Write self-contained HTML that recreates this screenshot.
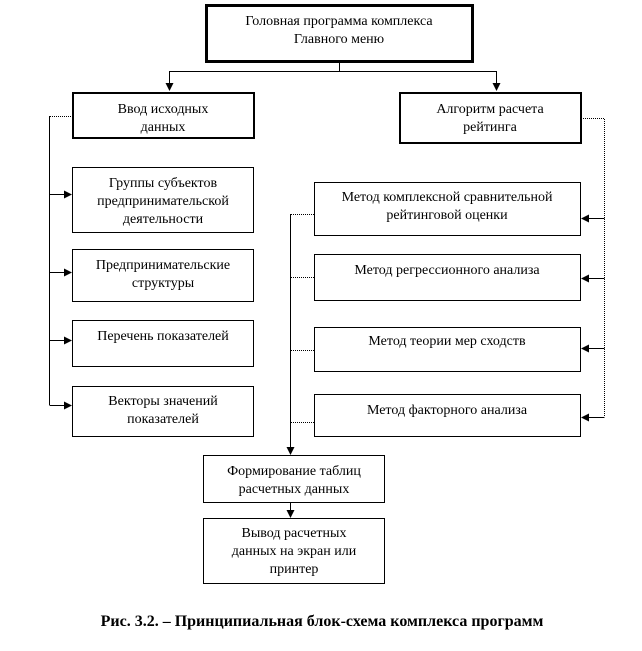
<!DOCTYPE html>
<html><head><meta charset="utf-8"><style>
html,body{margin:0;padding:0;background:#fff;}
svg{display:block;}
text{font-family:"Liberation Serif",serif;font-size:14px;fill:#000;}
</style></head><body>
<svg width="642" height="651" viewBox="0 0 642 651" xmlns="http://www.w3.org/2000/svg">
<defs>
<marker id="a" markerWidth="8" markerHeight="8" refX="7" refY="4" orient="auto" markerUnits="userSpaceOnUse">
<path d="M0,0 L8,4 L0,8 z" fill="#000"/></marker>
</defs>
<g fill="none" stroke="#000">
<rect x="206.5" y="5.5" width="266" height="56" stroke-width="3"/>
<rect x="73" y="93" width="181" height="45" stroke-width="2"/>
<rect x="400" y="93" width="181" height="50" stroke-width="2"/>
<rect x="72.5" y="167.5" width="181" height="65"/>
<rect x="72.5" y="249.5" width="181" height="52"/>
<rect x="72.5" y="320.5" width="181" height="46"/>
<rect x="72.5" y="386.5" width="181" height="50"/>
<rect x="314.5" y="182.5" width="266" height="53"/>
<rect x="314.5" y="254.5" width="266" height="46"/>
<rect x="314.5" y="327.5" width="266" height="44"/>
<rect x="314.5" y="394.5" width="266" height="42"/>
<rect x="203.5" y="455.5" width="181" height="47"/>
<rect x="203.5" y="518.5" width="181" height="65"/>
<path d="M339.5,61 V71.5 M169.5,71.5 H496.5"/>
<path d="M169.5,71 V90" marker-end="url(#a)"/>
<path d="M496.5,71 V90" marker-end="url(#a)"/>
<path d="M73,116.5 H49.5" stroke-dasharray="1,1"/>
<path d="M49.5,116 V405"/>
<path d="M49.5,194.5 H71" marker-end="url(#a)"/>
<path d="M49.5,272.5 H71" marker-end="url(#a)"/>
<path d="M49.5,340.5 H71" marker-end="url(#a)"/>
<path d="M49.5,405.5 H71" marker-end="url(#a)"/>
<path d="M581,118.5 H604.5 V417" stroke-dasharray="1,1"/>
<path d="M604.5,218.5 H582" marker-end="url(#a)"/>
<path d="M604.5,278.5 H582" marker-end="url(#a)"/>
<path d="M604.5,348.5 H582" marker-end="url(#a)"/>
<path d="M604.5,417.5 H582" marker-end="url(#a)"/>
<path d="M314,214.5 H290.5 M314,277.5 H290.5 M314,350.5 H290.5 M314,422.5 H290.5" stroke-dasharray="1,1"/>
<path d="M290.5,214 V454" marker-end="url(#a)"/>
<path d="M290.5,503 V517" marker-end="url(#a)"/>
</g>
<g text-anchor="middle">
<text x="339" y="25">Головная программа комплекса</text>
<text x="339" y="43">Главного меню</text>
<text x="163" y="113">Ввод исходных</text>
<text x="163" y="131">данных</text>
<text x="490" y="113">Алгоритм расчета</text>
<text x="490" y="131">рейтинга</text>
<text x="163" y="187">Группы субъектов</text>
<text x="163" y="205">предпринимательской</text>
<text x="163" y="223">деятельности</text>
<text x="163" y="269">Предпринимательские</text>
<text x="163" y="287">структуры</text>
<text x="163" y="340">Перечень показателей</text>
<text x="163" y="405">Векторы значений</text>
<text x="163" y="423">показателей</text>
<text x="447" y="201">Метод комплексной сравнительной</text>
<text x="447" y="219">рейтинговой оценки</text>
<text x="447" y="274">Метод регрессионного анализа</text>
<text x="447" y="345">Метод теории мер сходств</text>
<text x="447" y="414">Метод факторного анализа</text>
<text x="294" y="475">Формирование таблиц</text>
<text x="294" y="493">расчетных данных</text>
<text x="294" y="537">Вывод расчетных</text>
<text x="294" y="555">данных на экран или</text>
<text x="294" y="573">принтер</text>
<text x="322" y="626" style="font-weight:bold;font-size:16px">Рис. 3.2. – Принципиальная блок-схема комплекса программ</text>
</g>
</svg>
</body></html>
